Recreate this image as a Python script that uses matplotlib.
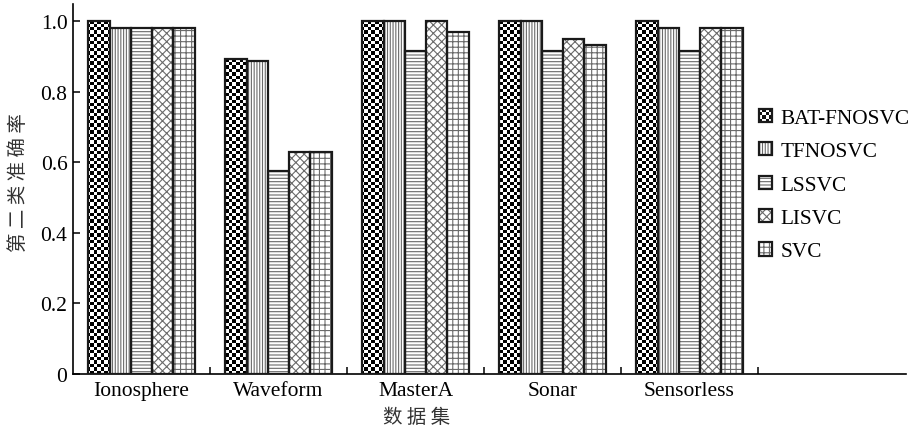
import numpy as np
import matplotlib
matplotlib.use("Agg")
import matplotlib.pyplot as plt
from matplotlib.patches import Rectangle
from matplotlib.legend_handler import HandlerBase

categories = ["Ionosphere", "Waveform", "MasterA", "Sonar", "Sensorless"]
methods = ["BAT-FNOSVC", "TFNOSVC", "LSSVC", "LISVC", "SVC"]
bat_fnosvc = [1.000, 0.891, 1.000, 1.000, 1.000]
tfnosvc    = [0.981, 0.886, 1.000, 1.000, 0.981]
lssvc      = [0.981, 0.574, 0.915, 0.915, 0.915]
lisvc      = [0.981, 0.630, 1.000, 0.949, 0.981]
svc        = [0.981, 0.630, 0.970, 0.932, 0.981]
series = [bat_fnosvc, tfnosvc, lssvc, lisvc, svc]
yticks = [0, 0.2, 0.4, 0.6, 0.8, 1.0]
ytick_labels = ["0", "0.2", "0.4", "0.6", "0.8", "1.0"]

hatches = [None, "||||||", "-----", "xxxx", "+++"]
hatch_gray = "#6a6a6a"

plt.rcParams["font.family"] = ["Liberation Serif", "Noto Sans CJK SC"]
plt.rcParams["hatch.linewidth"] = 0.8

fig = plt.figure(figsize=(9.11, 4.35), dpi=100)
ax = fig.add_axes([73 / 911, 60 / 435, 833 / 911, 370 / 435])

x = np.arange(len(categories))
w = 0.155
xmin, xmax = -0.5, 5.58
ymin, ymax = 0, 1.048
ax.set_xlim(xmin, xmax)
ax.set_ylim(ymin, ymax)

# checkerboard texture (used only inside BAT-FNOSVC bars)
ncx, ncy = 240, 108
cb = (np.add.outer(np.arange(ncy), np.arange(ncx)) % 2).astype(float)

for i, (vals, h) in enumerate(zip(series, hatches)):
    pos = x + (i - 2) * w
    if h is None:
        bars = ax.bar(pos, vals, w, color="white", edgecolor="none", linewidth=0, zorder=1)
        for b in bars:
            im = ax.imshow(cb, cmap="gray", vmin=0, vmax=1, interpolation="nearest",
                           extent=(xmin, xmax, ymin, ymax), aspect="auto", zorder=2)
            im.set_clip_path(b)
        ax.set_xlim(xmin, xmax)
        ax.set_ylim(ymin, ymax)
    else:
        ax.bar(pos, vals, w, color="white", edgecolor=hatch_gray, hatch=h, linewidth=0, zorder=2)
    ax.bar(pos, vals, w, fill=False, edgecolor="#1a1a1a", linewidth=1.6, zorder=3)


class PatternHandler(HandlerBase):
    def __init__(self, hatch):
        super().__init__()
        self.hatch = hatch

    def create_artists(self, legend, orig_handle, xdescent, ydescent, width, height, fontsize, trans):
        arts = []
        s = min(width, height)
        x0, y0 = -xdescent, -ydescent + (height - s) / 2
        if self.hatch is None:
            n = 4
            c = s / n
            arts.append(Rectangle((x0, y0), s, s, facecolor="white", edgecolor="none", transform=trans))
            for r in range(n):
                for q in range(n):
                    if (r + q) % 2 == 0:
                        arts.append(Rectangle((x0 + q * c, y0 + r * c), c, c, facecolor="#111111",
                                              edgecolor="none", transform=trans))
        else:
            arts.append(Rectangle((x0, y0), s, s, facecolor="white", edgecolor=hatch_gray,
                                  hatch=self.hatch, linewidth=0, transform=trans))
        arts.append(Rectangle((x0, y0), s, s, fill=False, edgecolor="#1a1a1a", linewidth=1.6, transform=trans))
        return arts


handles = [Rectangle((0, 0), 1, 1) for _ in methods]
handler_map = {hd: PatternHandler(hh) for hd, hh in zip(handles, hatches)}
fig.legend(handles, methods, handler_map=handler_map, loc="center left",
           bbox_to_anchor=(759 / 911, 1 - 186 / 435), frameon=False, fontsize=15.3,
           handlelength=0.62, handleheight=0.62, handletextpad=0.4, labelspacing=0.66,
           borderpad=0, borderaxespad=0)

ax.spines["top"].set_visible(False)
ax.spines["right"].set_visible(False)
ax.spines["left"].set_linewidth(1.2)
ax.spines["bottom"].set_linewidth(1.2)

ax.set_yticks(yticks)
ax.set_yticklabels(ytick_labels)
ax.tick_params(axis="y", direction="in", length=5, width=1.1, labelsize=15.5, pad=4)

ax.set_xticks(x)
ax.set_xticklabels(categories)
ax.set_xticks(np.arange(len(categories)) + 0.5, minor=True)
ax.tick_params(axis="x", which="major", length=0, labelsize=15.5, pad=5)
ax.tick_params(axis="x", which="minor", direction="in", length=5, width=1.1)

ax.set_xlabel("数 据 集", fontsize=14, family=["Noto Sans CJK SC"], color="#333333")
ax.xaxis.set_label_coords(0.412, -0.115)
ax.set_ylabel("第 二 类 准 确 率", fontsize=14, family=["Noto Sans CJK SC"], color="#333333")
ax.yaxis.set_label_coords(-0.066, 0.52)
ax.xaxis.label.set_va("center")
ax.yaxis.label.set_va("center")

fig.savefig("out.png", dpi=100)
